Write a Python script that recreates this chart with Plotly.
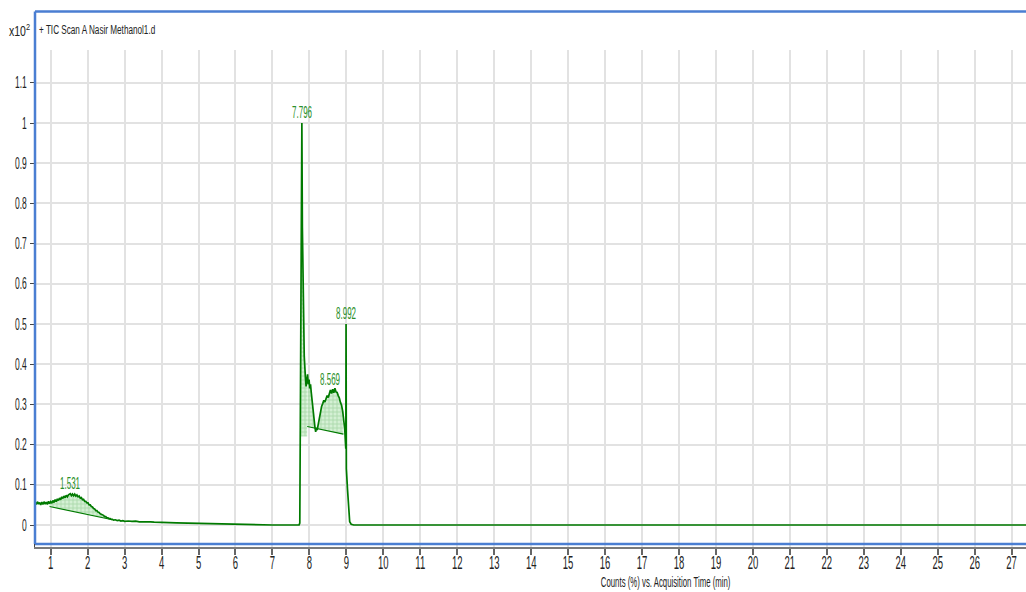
import plotly.graph_objects as go

# ---- chromatogram data (time in min, counts in units of 10^2 %) ----
time_min = [
    0.58, 0.61, 0.64, 0.67, 0.70, 0.73, 0.76, 0.79, 0.82, 0.85, 0.88, 0.91, 0.94, 0.97,
    1.00, 1.03, 1.06, 1.09, 1.12, 1.15, 1.18, 1.21, 1.24, 1.27, 1.30, 1.33, 1.36, 1.39,
    1.42, 1.45, 1.48, 1.531, 1.56, 1.59, 1.62, 1.65, 1.68, 1.71, 1.74, 1.77, 1.80, 1.83,
    1.86, 1.89, 1.92, 1.95, 1.98, 2.01, 2.04, 2.07, 2.10, 2.13, 2.16, 2.19, 2.22, 2.25,
    2.28, 2.31, 2.34, 2.37, 2.40, 2.43, 2.46, 2.49, 2.52, 2.55, 2.58, 2.61, 2.64, 2.67,
    2.70, 2.75, 2.80, 2.85, 2.90, 2.95, 3.00,
    3.1, 3.2, 3.3, 3.4, 3.5, 3.6, 3.7, 3.8, 3.9, 4.0, 4.2, 4.4, 4.6, 4.8, 5.0, 5.2,
    5.4, 5.6, 5.8, 6.0, 6.2, 6.5, 7.0, 7.5, 7.72,
    7.74, 7.76, 7.78, 7.796, 7.81, 7.83, 7.86, 7.89, 7.91, 7.93, 7.95, 7.97, 7.99,
    8.01, 8.03, 8.05, 8.07, 8.09, 8.11, 8.13, 8.15, 8.17, 8.19, 8.21, 8.24, 8.27,
    8.30, 8.33, 8.36, 8.39, 8.42, 8.45, 8.48, 8.51, 8.54, 8.569, 8.60, 8.63, 8.66,
    8.69, 8.72, 8.75, 8.78, 8.81, 8.84, 8.87, 8.90, 8.93, 8.955, 8.975, 8.985,
    8.992, 9.00, 9.03, 9.06, 9.09, 9.13, 9.2, 12.0, 18.0, 27.4,
]
counts = [
    0.057, 0.051, 0.058, 0.052, 0.056, 0.050, 0.057, 0.051, 0.058, 0.052, 0.057, 0.051, 0.059, 0.053,
    0.058, 0.054, 0.061, 0.056, 0.063, 0.058, 0.065, 0.061, 0.067, 0.063, 0.070, 0.066, 0.072, 0.068,
    0.074, 0.070, 0.075, 0.078, 0.073, 0.077, 0.073, 0.077, 0.072, 0.075, 0.070, 0.072, 0.067, 0.068,
    0.063, 0.064, 0.059, 0.059, 0.055, 0.055, 0.050, 0.050, 0.046, 0.045, 0.041, 0.040, 0.036, 0.036,
    0.032, 0.031, 0.028, 0.027, 0.024, 0.024, 0.021, 0.021, 0.018, 0.018, 0.016, 0.016, 0.014, 0.014,
    0.012, 0.013, 0.011, 0.012, 0.010, 0.011, 0.009,
    0.010, 0.009, 0.0095, 0.008, 0.0085, 0.0075, 0.008, 0.007, 0.0072, 0.0065, 0.006, 0.0055, 0.005,
    0.0045, 0.004, 0.0035, 0.003, 0.0022, 0.0015, 0.0008, 0.0002, 0.0, 0.0, 0.0, 0.0,
    0.005, 0.35, 0.80, 1.00, 0.74, 0.55, 0.42, 0.37, 0.345, 0.36, 0.375, 0.35, 0.362,
    0.34, 0.35, 0.33, 0.31, 0.29, 0.27, 0.255, 0.243, 0.232, 0.242, 0.236, 0.252, 0.268,
    0.283, 0.295, 0.302, 0.31, 0.306, 0.318, 0.322, 0.317, 0.328, 0.336, 0.327, 0.338, 0.329,
    0.34, 0.331, 0.33, 0.322, 0.316, 0.305, 0.298, 0.283, 0.265, 0.24, 0.205, 0.19,
    0.50, 0.14, 0.09, 0.035, 0.008, 0.002, 0.0, 0.0, 0.0, 0.0,
]

# labelled peaks (retention times)
peak_times = [1.531, 7.796, 8.569, 8.992]
peak_labels = ["1.531", "7.796", "8.569", "8.992"]

# integration windows: (start time, baseline at start, end time, baseline at end)
integ_start = [0.97, 7.76, 7.94]
integ_start_level = [0.046, 0.22, 0.245]
integ_end = [2.67, 7.94, 8.92]
integ_end_level = [0.013, 0.22, 0.226]
draw_baseline = [True, False, True]

x_ticks = list(range(1, 28))
y_ticks = [round(0.1 * i, 1) for i in range(12)]

GREEN = "#007a00"
FONT = "Liberation Sans, Arial, sans-serif"
BLUE = "#4a7ed2"

fig = go.Figure()

# shaded integrated areas
for t0, b0, t1, b1, show_bl in zip(integ_start, integ_start_level, integ_end,
                                    integ_end_level, draw_baseline):
    seg_t = [t for t in time_min if t0 <= t <= t1]
    seg_c = [c for t, c in zip(time_min, counts) if t0 <= t <= t1]
    fig.add_trace(go.Scatter(
        x=[t0] + seg_t + [t1, t1, t0],
        y=[b0] + seg_c + [seg_c[-1], b1, b0],
        fill="toself", mode="none",
        fillcolor="rgba(190,230,190,0.7)",
        fillpattern=dict(shape="+", size=4, solidity=0.3,
                         fgcolor="rgba(95,175,95,0.9)",
                         bgcolor="rgba(205,238,205,0.85)", fillmode="overlay"),
        hoverinfo="skip", showlegend=False,
    ))
    if show_bl:
        fig.add_trace(go.Scatter(
            x=[t0, t1], y=[b0, b1], mode="lines",
            line=dict(color=GREEN, width=1.2),
            hoverinfo="skip", showlegend=False,
        ))

# TIC trace
fig.add_trace(go.Scatter(
    x=time_min, y=counts, mode="lines",
    line=dict(color=GREEN, width=1.7),
    showlegend=False,
))

# peak labels
for pt, lab in zip(peak_times, peak_labels):
    idx = min(range(len(time_min)), key=lambda i: abs(time_min[i] - pt))
    fig.add_annotation(
        x=pt, y=counts[idx], text=lab, showarrow=False,
        yanchor="bottom", yshift=0,
        font=dict(family=FONT, size=16, color="#2a8f2a"),
    )

# panel frame
plot_h = 592 - 50 - 45
fig.add_shape(type="line", xref="paper", yref="paper",
              x0=0, x1=1, y0=1 + 38.5 / plot_h, y1=1 + 38.5 / plot_h,
              line=dict(color=BLUE, width=2.5))
fig.add_shape(type="line", xref="paper", yref="paper",
              x0=0, x1=0, y0=3 / plot_h, y1=1 + 38.5 / plot_h,
              line=dict(color=BLUE, width=2.5))
fig.add_shape(type="line", xref="paper", yref="paper",
              x0=0, x1=1, y0=3 / plot_h, y1=3 / plot_h,
              line=dict(color=BLUE, width=2.5))

# header texts
fig.add_annotation(xref="paper", yref="paper", x=-0.0035, y=1 + 20 / plot_h,
                   xanchor="right", align="right", yanchor="middle", showarrow=False,
                   text="x10<sup>2</sup>",
                   font=dict(family=FONT, size=14, color="#222"))
fig.add_annotation(xref="paper", yref="paper", x=0.002, y=1 + 20 / plot_h,
                   xanchor="left", align="left", yanchor="middle", showarrow=False,
                   text="+ TIC Scan A Nasir Methanol1.d",
                   font=dict(family=FONT, size=12, color="#222"))
fig.add_annotation(xref="paper", yref="paper", x=0.636, y=0,
                   xanchor="center", yanchor="middle", yshift=-34, showarrow=False,
                   text="Counts (%) vs. Acquisition Time (min)",
                   font=dict(family=FONT, size=15, color="#222"))

fig.update_layout(
    width=1026, height=592,
    margin=dict(l=35, r=0, t=50, b=45),
    paper_bgcolor="white", plot_bgcolor="white",
    font=dict(family=FONT, size=14, color="#222"),
    xaxis=dict(
        range=[0.5754, 27.389], tickvals=x_ticks,
        showgrid=True, gridcolor="#e2e2e2", gridwidth=1.5,
        zeroline=False, showline=True, linecolor="#7a7a7a", linewidth=2,
        ticks="outside", ticklen=6, tickwidth=1.5, tickcolor="#666",
        ticklabelstandoff=-9,
        tickfont=dict(family=FONT, size=19, color="#222"),
    ),
    yaxis=dict(
        range=[-0.0547, 1.1816], tickvals=y_ticks,
        showgrid=True, gridcolor="#e2e2e2", gridwidth=1.5,
        zeroline=False, showline=True, linecolor="#444", linewidth=1,
        ticks="outside", ticklen=4, tickcolor="#444",
        tickfont=dict(family=FONT, size=16, color="#222"),
    ),
)

# Narrow lettering: squeeze each label horizontally around its anchor.
squeeze_js = """
var gd = document.getElementById('{plot_id}');
function squeeze(el, f) {
    var L = el.getComputedTextLength();
    if (L > 0) {
        el.setAttribute('textLength', (L * f).toFixed(2));
        el.setAttribute('lengthAdjust', 'spacingAndGlyphs');
    }
}
gd.querySelectorAll('.xtick text').forEach(function (t) { squeeze(t, 0.5); });
gd.querySelectorAll('.ytick text').forEach(function (t) { squeeze(t, 0.53); });
gd.querySelectorAll('text.annotation-text').forEach(function (t) {
    var s = t.textContent;
    var f = 0.5;
    if (s.indexOf('TIC') >= 0) { f = 0.68; }
    else if (s.indexOf('x10') >= 0) { f = 0.75; }
    else if (s.indexOf('Counts') >= 0) { f = 0.52; }
    squeeze(t, f);
});
"""

fig.write_html("out.html", post_script=squeeze_js)
